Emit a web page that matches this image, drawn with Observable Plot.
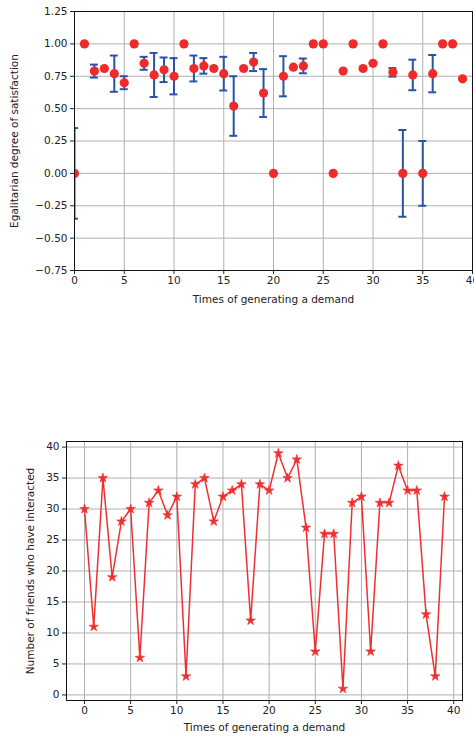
<!DOCTYPE html>
<html>
<head>
<meta charset="utf-8">
<script src="https://cdn.jsdelivr.net/npm/d3@7"></script>
<script src="https://cdn.jsdelivr.net/npm/@observablehq/plot@0.6"></script>
<style>
  html, body { margin: 0; padding: 0; background: #fff; }
  #wrap { position: relative; width: 474px; height: 740px; overflow: hidden; }
  #top { position: absolute; left: 0; top: 0; }
  #bottom { position: absolute; left: 0; top: 400px; }
  svg { font-family: "DejaVu Sans", sans-serif; }
</style>
</head>
<body>
<div id="wrap"><div id="top"></div><div id="bottom"></div></div>
<script>
// Top chart: egalitarian degree of satisfaction (mean ± error)
const demandTimes = d3.range(0, 40);
const satisfaction = [0.00, 1.00, 0.79, 0.81, 0.77, 0.70, 1.00, 0.85, 0.76, 0.80,
                      0.75, 1.00, 0.81, 0.83, 0.81, 0.77, 0.52, 0.81, 0.86, 0.62,
                      0.00, 0.75, 0.82, 0.83, 1.00, 1.00, 0.00, 0.79, 1.00, 0.81,
                      0.85, 1.00, 0.78, 0.00, 0.76, 0.00, 0.77, 1.00, 1.00, 0.73];
const satisfactionErr = [0.35, 0, 0.05, 0, 0.14, 0.05, 0, 0.05, 0.17, 0.095,
                         0.14, 0, 0.10, 0.06, 0, 0.13, 0.23, 0, 0.07, 0.185,
                         0, 0.155, 0, 0.057, 0, 0, 0, 0, 0, 0,
                         0, 0, 0.033, 0.335, 0.118, 0.25, 0.144, 0, 0, 0];
// Bottom chart: number of friends who have interacted
const friends = [30, 11, 35, 19, 28, 30, 6, 31, 33, 29,
                 32, 3, 34, 35, 28, 32, 33, 34, 12, 34,
                 33, 39, 35, 38, 27, 7, 26, 26, 1, 31,
                 32, 7, 31, 31, 37, 33, 33, 13, 3, 32];
const xTicks = [0, 5, 10, 15, 20, 25, 30, 35, 40];
const yTicksTop = [-0.75, -0.5, -0.25, 0, 0.25, 0.5, 0.75, 1.0, 1.25];
const yTicksBottom = [0, 5, 10, 15, 20, 25, 30, 35, 40];

const xLabel = "Times of generating a demand";
const yLabelTop = "Egalitarian degree of satisfaction";
const yLabelBottom = "Number of friends who have interacted";

const topData = demandTimes.map((t, i) => ({x: t, y: satisfaction[i], e: satisfactionErr[i]}));
const errData = topData.filter(d => d.e > 0);
const botData = demandTimes.map((t, i) => ({x: t, y: friends[i]}));

const gridColor = "#b0b0b0";
const fmt2 = d3.format(".2f");

const topPlot = Plot.plot({
  width: 474, height: 315,
  marginLeft: 74, marginRight: 2, marginTop: 11, marginBottom: 45,
  style: {fontFamily: "DejaVu Sans, sans-serif", fontSize: "10.5px", color: "#222", background: "#fff"},
  x: {domain: [0, 40]},
  y: {domain: [-0.75, 1.25]},
  marks: [
    Plot.gridX(xTicks, {stroke: gridColor, strokeOpacity: 1, strokeWidth: 1}),
    Plot.gridY(yTicksTop, {stroke: gridColor, strokeOpacity: 1, strokeWidth: 1}),
    Plot.ruleX(errData, {x: "x", y1: d => d.y - d.e, y2: d => d.y + d.e, stroke: "#2a52a8", strokeWidth: 2, clip: true}),
    Plot.ruleY(errData, {y: d => d.y + d.e, x1: d => d.x - 0.4, x2: d => d.x + 0.4, stroke: "#2a52a8", strokeWidth: 2, clip: true}),
    Plot.ruleY(errData, {y: d => d.y - d.e, x1: d => d.x - 0.4, x2: d => d.x + 0.4, stroke: "#2a52a8", strokeWidth: 2, clip: true}),
    Plot.dot(topData, {x: "x", y: "y", r: 4.6, fill: "#ee2a2a", stroke: "none", clip: true}),
    Plot.frame({stroke: "#111", strokeWidth: 1}),
    Plot.axisX(xTicks, {tickSize: 4, tickPadding: 2, label: xLabel, labelAnchor: "center", labelArrow: "none", labelOffset: 32, fill: "#222", stroke: "#222"}),
    Plot.axisY(yTicksTop, {tickSize: 4, tickPadding: 3, tickFormat: fmt2, label: yLabelTop, labelAnchor: "center", labelArrow: "none", labelOffset: 64, fill: "#222", stroke: "#222"})
  ]
});
document.getElementById("top").appendChild(topPlot);

const botPlot = Plot.plot({
  width: 474, height: 340,
  marginLeft: 66, marginRight: 12, marginTop: 41, marginBottom: 40,
  style: {fontFamily: "DejaVu Sans, sans-serif", fontSize: "10.5px", color: "#222", background: "#fff"},
  x: {domain: [-1.95, 40.95]},
  y: {domain: [-0.9, 40.9]},
  marks: [
    Plot.gridX(xTicks, {stroke: gridColor, strokeOpacity: 1, strokeWidth: 1}),
    Plot.gridY(yTicksBottom, {stroke: gridColor, strokeOpacity: 1, strokeWidth: 1}),
    Plot.line(botData, {x: "x", y: "y", stroke: "#f03030", strokeWidth: 1.5}),
    Plot.dot(botData, {x: "x", y: "y", symbol: "star", r: 3.0, fill: "#f03030", stroke: "#f03030", strokeWidth: 0.6}),
    Plot.frame({stroke: "#111", strokeWidth: 1}),
    Plot.axisX(xTicks, {tickSize: 4, tickPadding: 2, label: xLabel, labelAnchor: "center", labelArrow: "none", labelOffset: 30, fill: "#222", stroke: "#222"}),
    Plot.axisY(yTicksBottom, {tickSize: 4, tickPadding: 3, label: yLabelBottom, labelAnchor: "center", labelArrow: "none", labelOffset: 40, fill: "#222", stroke: "#222"})
  ]
});
document.getElementById("bottom").appendChild(botPlot);
</script>
</body>
</html>
